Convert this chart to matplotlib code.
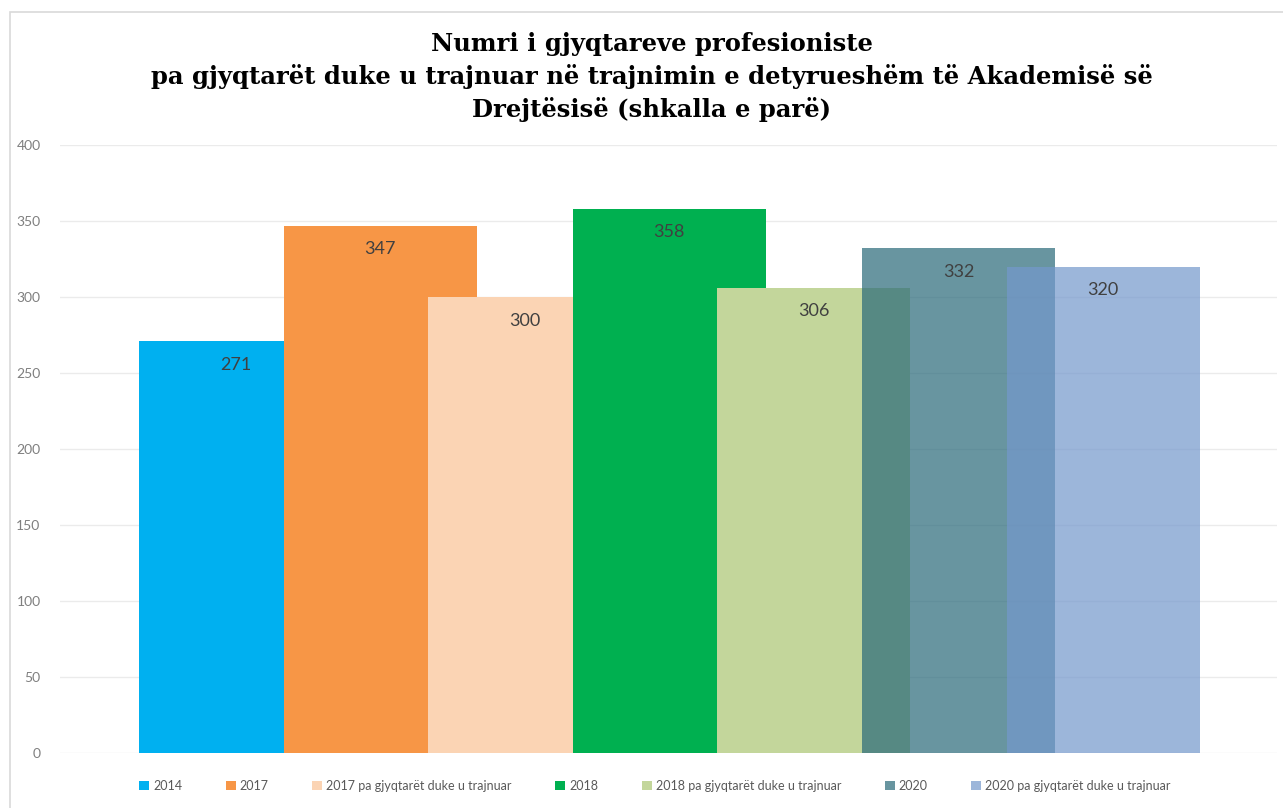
import matplotlib
matplotlib.use("Agg")
import matplotlib.pyplot as plt
from matplotlib.patches import Rectangle

categories = ["2014", "2017", "2017 pa gjyqtarët duke u trajnuar", "2018",
              "2018 pa gjyqtarët duke u trajnuar", "2020",
              "2020 pa gjyqtarët duke u trajnuar"]
values = [271, 347, 300, 358, 306, 332, 320]
colors = ["#00B0F0", "#F79646", "#FBD4B4", "#00B050", "#C3D69B", "#2A6A7A", "#7498CC"]
alphas = [1, 1, 1, 1, 1, 0.71, 0.71]
yticks = [0, 50, 100, 150, 200, 250, 300, 350, 400]
title = ("Numri i gjyqtareve profesioniste\n"
         "pa gjyqtarët duke u trajnuar në trajnimin e detyrueshëm të Akademisë së\n"
         "Drejtësisë (shkalla e parë)")

W, H = 1283, 808
fig = plt.figure(figsize=(W / 100, H / 100), dpi=100)
fig.patches.append(Rectangle((10 / W, -0.1), 1.2, (H - 12) / H + 0.1,
                             transform=fig.transFigure, fill=False,
                             edgecolor="#D9D9D9", linewidth=1.2))

ax = fig.add_axes([60 / W, (H - 753) / H, (1277 - 60) / W, (753 - 145) / H])
ax.set_facecolor("none")
spacing = 144.6
width = 193 / spacing
for i, (c, v, col, a) in enumerate(zip(categories, values, colors, alphas)):
    ax.bar(i, v, width=width, color=col, alpha=a, label=c, zorder=2 + i,
           edgecolor="none")
    ax.text(i, v - 15.5, str(v), ha="center", va="center", fontsize=13,
            family="Lato", color="#404040", zorder=20)

ax.set_xlim((60 - 235.5) / spacing, (1277 - 235.5) / spacing)
ax.set_ylim(0, 400)
ax.set_yticks(yticks)
ax.set_xticks([])
ax.grid(axis="y", color="#EBEBEB", linewidth=1, zorder=0)
ax.set_axisbelow(True)
for s in ax.spines.values():
    s.set_visible(False)
ax.tick_params(axis="y", length=0, pad=14, labelsize=10, labelcolor="#7F7F7F")
for t in ax.get_yticklabels():
    t.set_family("Lato")

fig.text(652 / W, (H - 77) / H, title, ha="center", va="center", fontsize=17.5,
         fontweight="bold", family="DejaVu Serif", linespacing=1.4,
         color="#000000")

leg = fig.legend(loc="center", bbox_to_anchor=(655 / W, (H - 786) / H), ncol=7,
                 frameon=False, handlelength=0.8, handleheight=0.8,
                 handletextpad=0.3, columnspacing=3.5,
                 prop={"family": "Lato", "size": 9})
for t in leg.get_texts():
    t.set_color("#595959")

fig.savefig("out.png", dpi=100)
